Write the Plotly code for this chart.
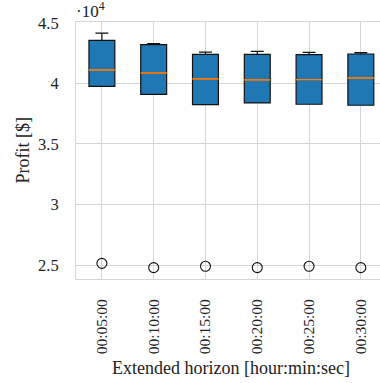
import plotly.graph_objects as go

categories = ["00:05:00", "00:10:00", "00:15:00", "00:20:00", "00:25:00", "00:30:00"]
q1 = [39750, 39090, 38240, 38380, 38270, 38190]
median = [41100, 40850, 40360, 40280, 40300, 40440]
q3 = [43540, 43190, 42390, 42390, 42370, 42420]
lower_whisker = [39750, 39090, 38240, 38380, 38270, 38190]
upper_whisker = [44140, 43270, 42580, 42630, 42550, 42530]
outliers = [25140, 24790, 24900, 24790, 24900, 24790]

ytick_vals = [25000, 30000, 35000, 40000, 45000]
ytick_text = ["2.5", "3", "3.5", "4", "4.5"]

positions = list(range(1, len(categories) + 1))
FONT = "Liberation Serif"
GRID = "#d6d6d6"

fig = go.Figure()
fig.add_trace(go.Box(
    x=positions, q1=q1, median=median, q3=q3,
    lowerfence=lower_whisker, upperfence=upper_whisker,
    width=0.5, whiskerwidth=0.5, boxpoints=False,
    fillcolor="#1f77b4", line=dict(color="#111111", width=1.2),
    showlegend=False, hoverinfo="skip",
))
fig.add_trace(go.Box(
    x=positions, q1=median, median=median, q3=median,
    lowerfence=median, upperfence=median,
    width=0.5, whiskerwidth=0, boxpoints=False,
    fillcolor="rgba(0,0,0,0)", line=dict(color="#ff7f0e", width=1),
    showlegend=False, hoverinfo="skip",
))
fig.add_trace(go.Scatter(
    x=positions, y=outliers, mode="markers",
    marker=dict(symbol="circle-open", size=10, color="#111111", line=dict(width=1.1)),
    showlegend=False, hoverinfo="skip",
))

fig.update_layout(
    width=380, height=383,
    margin=dict(l=76, r=0, t=22, b=104),
    paper_bgcolor="white", plot_bgcolor="white",
    boxmode="overlay",
    font=dict(family=FONT, size=16, color="#222222"),
    xaxis=dict(
        range=[0.5, 6.37], tickmode="array", tickvals=positions, ticktext=categories,
        tickangle=-90, ticks="", ticklabelstandoff=13, automargin=False,
        showgrid=True, gridcolor=GRID, gridwidth=1,
        showline=True, linecolor=GRID, linewidth=1, mirror=True,
        zeroline=False, tickfont=dict(family=FONT, size=15.5),
    ),
    yaxis=dict(
        range=[23850, 45060], tickmode="array", tickvals=ytick_vals, ticktext=ytick_text,
        ticks="", ticklabelstandoff=13, automargin=False,
        showgrid=True, gridcolor=GRID, gridwidth=1,
        showline=True, linecolor=GRID, linewidth=1, mirror=False,
        zeroline=False, tickfont=dict(family=FONT, size=16.5),
    ),
    annotations=[
        dict(text="·10<sup>4</sup>", xref="paper", yref="paper", x=0, y=1,
             xanchor="left", yanchor="bottom", showarrow=False,
             font=dict(family=FONT, size=17), xshift=-2, yshift=-1),
        dict(text="Extended horizon [hour:min:sec]", xref="x", yref="paper", x=3.5, y=0,
             xanchor="center", yanchor="middle", showarrow=False, yshift=-89,
             font=dict(family=FONT, size=18)),
        dict(text="Profit [$]", xref="paper", yref="paper", x=0, y=0.5,
             xanchor="center", yanchor="middle", showarrow=False, xshift=-54,
             textangle=-90, font=dict(family=FONT, size=18)),
    ],
)

fig.write_html("out.html", config={"displayModeBar": False},
               post_script="document.body.style.margin='0px';")
